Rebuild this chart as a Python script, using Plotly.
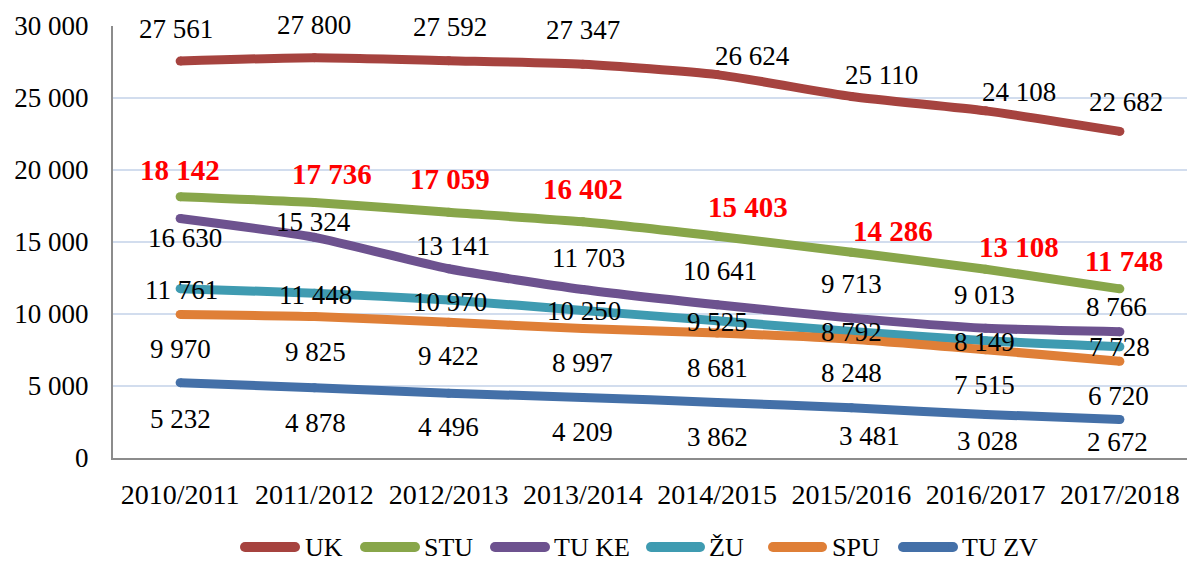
import plotly.graph_objects as go

categories = ["2010/2011", "2011/2012", "2012/2013", "2013/2014",
              "2014/2015", "2015/2016", "2016/2017", "2017/2018"]

uk = [27561, 27800, 27592, 27347, 26624, 25110, 24108, 22682]
stu = [18142, 17736, 17059, 16402, 15403, 14286, 13108, 11748]
tuke = [16630, 15324, 13141, 11703, 10641, 9713, 9013, 8766]
zu = [11761, 11448, 10970, 10250, 9525, 8792, 8149, 7728]
spu = [9970, 9825, 9422, 8997, 8681, 8248, 7515, 6720]
tuzv = [5232, 4878, 4496, 4209, 3862, 3481, 3028, 2672]

series_names = ["UK", "STU", "TU KE", "ŽU", "SPU", "TU ZV"]
series_values = [uk, stu, tuke, zu, spu, tuzv]

y_ticks = [0, 5000, 10000, 15000, 20000, 25000, 30000]

# ---- styling ----
FONT = "Liberation Serif"
FS = 27
colors = ["#A6433F", "#88A64A", "#6D528F", "#3F9BB1", "#DF7F37", "#4470A8"]
label_colors = ["black", "red", "black", "black", "black", "black"]
label_bold = [False, True, False, False, False, False]

# per-label pixel offsets (dx right, dy down) for the data labels
label_dx = [
    [-4, 0, 1, 0, 35, 30, 33, 6],
    [0, 18, 1, 0, 31, 42, 33, 4],
    [5, -1, 4, 6, 3, 0, -1, -3],
    [1, 1, 1, 1, 0, 0, -1, 0],
    [0, 1, 0, 0, 0, 0, -1, -1],
    [0, 1, 0, 0, 0, 18, 2, -2],
]
label_dy = [
    [-32, -33, -34, -34, -19, -21, -19, -29],
    [-27, -29, -33, -33, -29, -21, -22, -28],
    [19, -15, -23, -31, -34, -34, -33, -25],
    [1, 2, 2, 1, 1, 1, 1, 0],
    [35, 35, 34, 35, 35, 34, 35, 35],
    [36, 35, 34, 35, 35, 28, 27, 22],
]

ML, MR, MT, MB = 113, 0, 26, 104
W, H = 1187, 562
PW, PH = W - ML - MR, H - MT - MB

fig = go.Figure()
for name, vals, col in zip(series_names, series_values, colors):
    fig.add_trace(go.Scatter(
        x=categories, y=vals, name=name, mode="lines+markers",
        line=dict(color=col, width=9, shape="spline", smoothing=0.6),
        marker=dict(color=col, size=9, line=dict(width=0)),
        showlegend=False, hoverinfo="x+y+name",
    ))

annotations = []
for si, vals in enumerate(series_values):
    for i, v in enumerate(vals):
        txt = f"{v:,}".replace(",", " ")
        if label_bold[si]:
            txt = f"<b>{txt}</b>"
        annotations.append(dict(
            x=categories[i], y=v, xref="x", yref="y", text=txt, showarrow=False,
            xshift=label_dx[si][i], yshift=-label_dy[si][i],
            font=dict(family=FONT, size=29 if label_bold[si] else FS,
                      color=label_colors[si]),
        ))

# manual legend
def px2x(px):
    return (px - ML) / PW

def px2y(py):
    return (H - MB - py) / PH

legend_items = [(240, 300, 303), (360, 420, 422), (490, 550, 552),
                (646, 705, 707), (768, 827, 830), (898, 958, 960)]
ly = 547
shapes = []
r = 5
for (x0, x1, tx), name, col in zip(legend_items, series_names, colors):
    shapes.append(dict(type="line", xref="paper", yref="paper",
                       x0=px2x(x0 + r), x1=px2x(x1 - r), y0=px2y(ly), y1=px2y(ly),
                       line=dict(color=col, width=10)))
    for cx in (x0 + r, x1 - r):
        shapes.append(dict(type="circle", xref="paper", yref="paper",
                           x0=px2x(cx - r), x1=px2x(cx + r),
                           y0=px2y(ly + r), y1=px2y(ly - r),
                           fillcolor=col, line=dict(width=0)))
    annotations.append(dict(x=px2x(tx), y=px2y(ly), xref="paper", yref="paper",
                            text=name, showarrow=False, xanchor="left", yanchor="middle",
                            font=dict(family=FONT, size=26, color="black")))

fig.update_layout(
    width=W, height=H,
    margin=dict(l=ML, r=MR, t=MT, b=MB, autoexpand=False),
    paper_bgcolor="white", plot_bgcolor="white",
    separators=", ",
    font=dict(family=FONT, size=FS, color="black"),
    showlegend=False,
    annotations=annotations,
    shapes=shapes,
    xaxis=dict(
        type="category", categoryorder="array", categoryarray=categories,
        range=[-0.5, len(categories) - 0.5],
        showgrid=False, showline=True, linecolor="#8C8C8C", linewidth=2,
        ticks="", tickfont=dict(family=FONT, size=28, color="black"),
        ticklabelstandoff=10, zeroline=False,
    ),
    yaxis=dict(
        range=[0, 30000], tickvals=y_ticks, tickformat=",d",
        showgrid=True, gridcolor="#D2DDEE", gridwidth=1.5,
        showline=True, linecolor="#8C8C8C", linewidth=2,
        zeroline=False, ticks="",
        tickfont=dict(family=FONT, size=FS, color="black"),
        ticklabelstandoff=17,
    ),
)

fig.write_html("out.html", config={"displayModeBar": False},
               post_script="document.body.style.margin='0';document.body.style.overflow='hidden';")
